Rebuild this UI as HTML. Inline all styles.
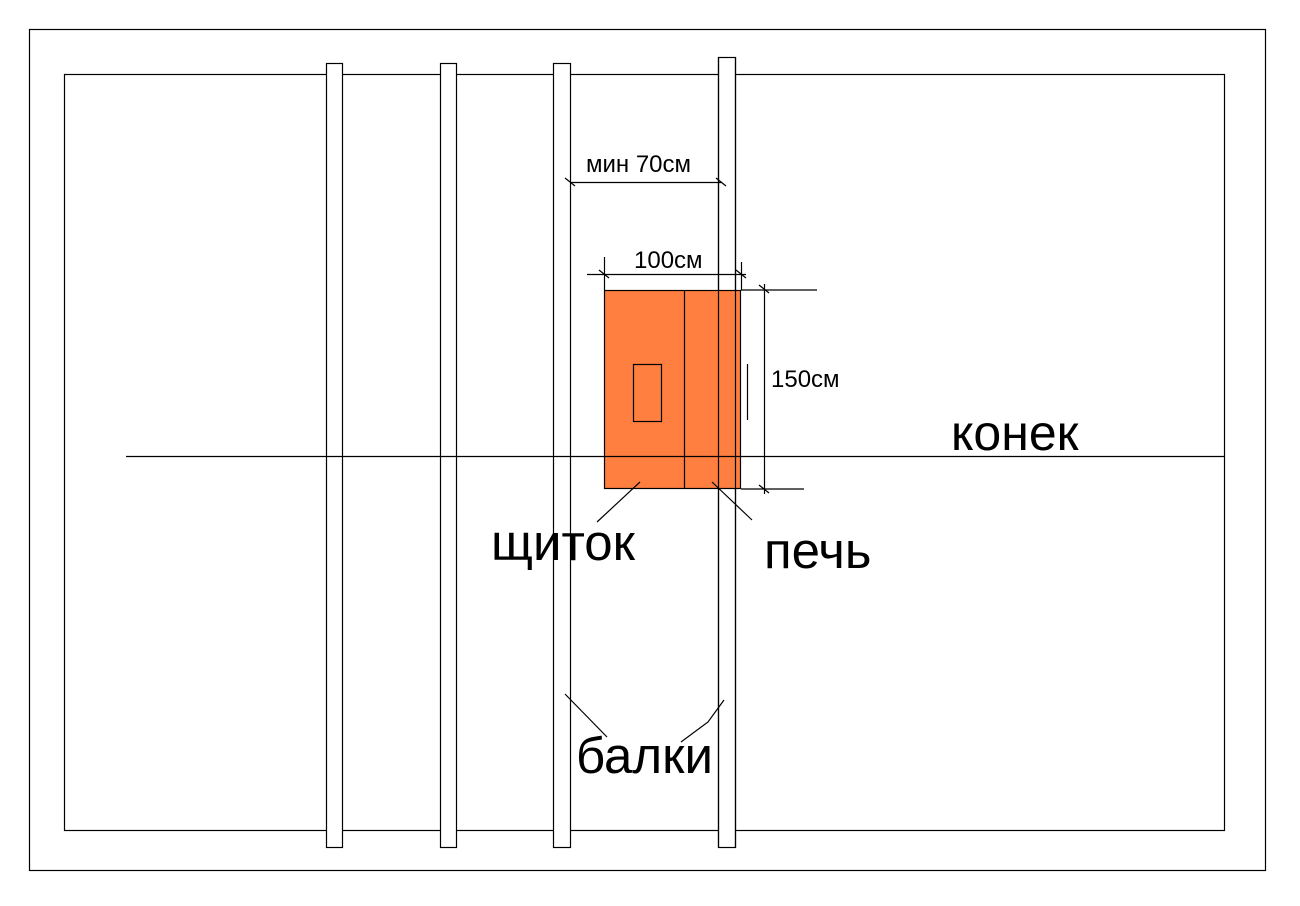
<!DOCTYPE html>
<html><head><meta charset="utf-8"><style>body{margin:0;background:#fff}svg{display:block}</style></head>
<body>
<svg width="1300" height="906" xmlns="http://www.w3.org/2000/svg" font-family="Liberation Sans, DejaVu Sans, sans-serif" fill="none" stroke="#000" stroke-width="1.2">
<rect x="29.5" y="29.5" width="1236" height="841"/>
<rect x="64.5" y="74.5" width="1160" height="756"/>
<line x1="741" y1="290" x2="817" y2="290"/>
<line x1="741" y1="489" x2="804" y2="489"/>
<line x1="747.5" y1="364" x2="747.5" y2="420"/>
<line x1="764.5" y1="284" x2="764.5" y2="494"/>
<line x1="759" y1="285" x2="769" y2="293"/><line x1="759" y1="485" x2="769" y2="493"/>
<g fill="#fff">
<rect x="326.5" y="63.5" width="16" height="784"/>
<rect x="440.5" y="63.5" width="16" height="784"/>
<rect x="553.5" y="63.5" width="17" height="784"/>
<rect x="718.5" y="57.5" width="17" height="790"/>
</g>
<line x1="126" y1="456.5" x2="1224" y2="456.5"/>
<rect x="604" y="290" width="137" height="199" fill="#fe7f3f" stroke="none"/>
<rect x="604.5" y="290.5" width="136" height="198"/>
<line x1="684.5" y1="290" x2="684.5" y2="489"/>
<line x1="718.5" y1="57" x2="718.5" y2="848"/><line x1="735.5" y1="57" x2="735.5" y2="848"/>
<line x1="604" y1="456.5" x2="741" y2="456.5"/>
<rect x="633.5" y="364.5" width="28" height="57"/>
<line x1="570" y1="182.5" x2="722" y2="182.5"/>
<line x1="565" y1="178" x2="575" y2="186"/><line x1="716" y1="178" x2="726" y2="186"/>
<line x1="587" y1="274.5" x2="746" y2="274.5"/>
<line x1="604.5" y1="257" x2="604.5" y2="290"/>
<line x1="741.5" y1="262" x2="741.5" y2="290"/>
<line x1="599" y1="270" x2="609" y2="278"/><line x1="736" y1="270" x2="746" y2="278"/>
<line x1="640" y1="482" x2="597" y2="522"/>
<line x1="712" y1="482" x2="752" y2="520"/>
<line x1="565" y1="694" x2="607" y2="737"/>
<polyline points="724,700 708,722 681,742"/>
<g fill="#000" stroke="none">
<text x="586" y="172" font-size="24">мин 70см</text>
<text x="634" y="268" font-size="24">100см</text>
<text x="771" y="387" font-size="24">150см</text>
<text x="951" y="450" font-size="50">конек</text>
<text x="491" y="560" font-size="51">щиток</text>
<text x="764" y="568" font-size="51">печь</text>
<text x="576" y="773" font-size="51">балки</text>
</g>
</svg>
</body></html>
